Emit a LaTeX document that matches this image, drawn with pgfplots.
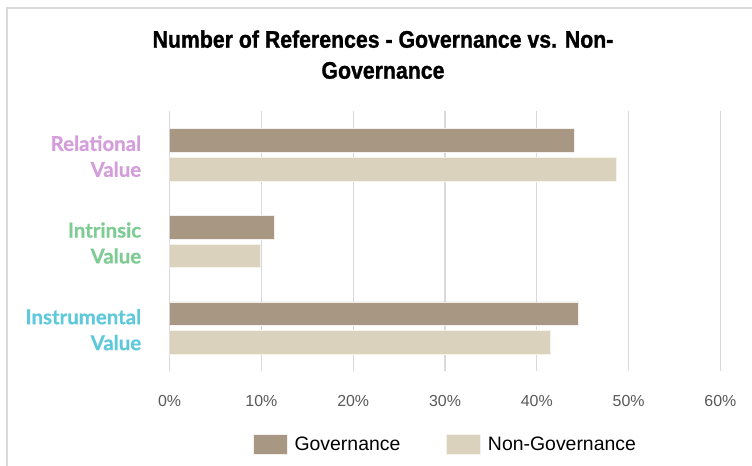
\documentclass[border=0pt]{standalone}
\usepackage{fontspec}
\usepackage{pgfplots}
\pgfplotsset{compat=1.18}
\setmainfont{Liberation Sans}
\newfontfamily\titlefont{Liberation Sans}[FakeStretch=0.89,FakeBold=1.2]
\newfontfamily\labfont{Lato}[FakeBold=0.6]
\definecolor{gov}{HTML}{A89783}
\definecolor{nongov}{HTML}{DBD2BD}
\definecolor{relc}{HTML}{D49DDB}
\definecolor{intc}{HTML}{7FCB94}
\definecolor{insc}{HTML}{5FC9DC}
\definecolor{gridgray}{HTML}{D9D9D9}
\definecolor{ticktext}{HTML}{595959}
\definecolor{bordergray}{HTML}{D9D9D9}
\begin{document}
\begin{tikzpicture}[x=1bp,y=1bp]
\useasboundingbox (0,0) rectangle (752,466);
\fill[white] (0,0) rectangle (752,466);
\draw[color=bordergray, line width=1.6bp] (7,0) -- (7,458) -- (752,458);
\node[anchor=base, font=\titlefont\bfseries\fontsize{24}{31}\selectfont] at (383,418.3) {Number of References - Governance vs. Non-};
\node[anchor=base, font=\titlefont\bfseries\fontsize{24}{31}\selectfont] at (383,387.3) {Governance};
\begin{axis}[
  at={(169.6bp,94.5bp)}, anchor=south west,
  scale only axis, width=550.8bp, height=260bp,
  xmin=0, xmax=60, ymin=-0.5, ymax=2.5,
  xbar, bar width=23.7bp,
  axis line style={draw=none},
  tick style={draw=none},
  xmajorgrids, grid style={color=gridgray, line width=1.3bp},
  xtick={0,10,20,30,40,50,60},
  xticklabel={\pgfmathprintnumber{\tick}\%},
  xticklabel style={font=\fontsize{16}{18}\selectfont, text=ticktext, anchor=center, yshift=-29.5bp},
  /pgf/number format/assume math mode=true,
  ytick={0,1,2},
  yticklabels={{\color{insc}Instrumental\\\color{insc}Value},{\color{intc}Intrinsic\\\color{intc}Value},{\color{relc}Relational\\\color{relc}Value}},
  yticklabel style={font=\labfont\bfseries\fontsize{20.5}{26}\selectfont, align=right, anchor=east, inner sep=0pt, xshift=-24bp, yshift=-1.5bp},
  legend columns=2,
  legend style={draw=none, fill=none, at={(0.499,-0.279)}, anchor=center,
    font=\fontsize{19.5}{22}\selectfont, column sep=7bp,
    nodes={inner sep=0pt},
    /tikz/every even column/.append style={column sep=46bp}},
  legend image code/.code={\fill[#1] (0bp,-10bp) rectangle (34bp,10bp);},
]
\addplot[fill=gov, draw=white!85!gov, line width=0.6bp, bar shift=14.4bp] coordinates {(44.56,0) (11.4,1) (44.05,2)};
\addplot[fill=nongov, draw=white!70!nongov, line width=0.6bp, bar shift=-14.4bp] coordinates {(41.44,0) (9.84,1) (48.66,2)};
\legend{Governance, Non-Governance}
\end{axis}
\end{tikzpicture}
\end{document}
